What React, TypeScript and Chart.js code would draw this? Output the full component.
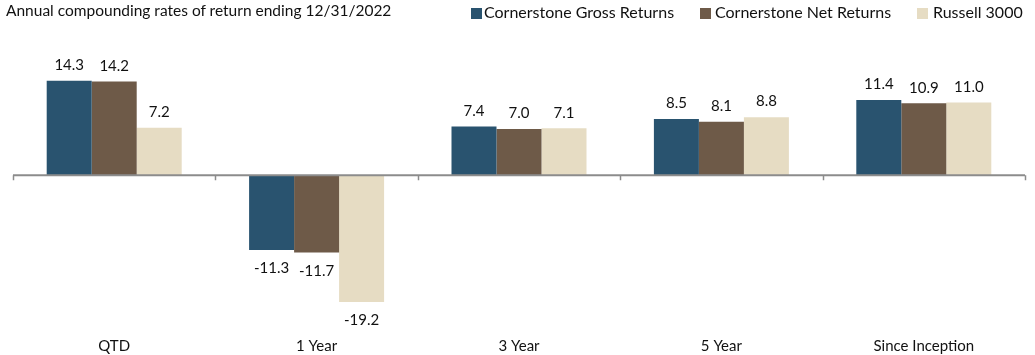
import React, { useEffect, useRef } from "react";
import { Chart, registerables } from "chart.js";

Chart.register(...registerables);

const title = "Annual compounding rates of return ending 12/31/2022";
const categories = ["QTD", "1 Year", "3 Year", "5 Year", "Since Inception"];
const seriesNames = ["Cornerstone Gross Returns", "Cornerstone Net Returns", "Russell 3000"];
const grossReturns = [14.3, -11.3, 7.4, 8.5, 11.4];
const netReturns = [14.2, -11.7, 7.0, 8.1, 10.9];
const russell3000 = [7.2, -19.2, 7.1, 8.8, 11.0];
const colors = ["#29536f", "#6e5a48", "#e6dcc3"];

const FONT = "Lato, 'Open Sans', sans-serif";

const overlayPlugin = {
  id: "overlay",
  afterDatasetsDraw(chart: any) {
    const ctx = chart.ctx;
    const y = chart.scales.y;
    const y0 = y.getPixelForValue(0);
    const { left, right } = chart.chartArea;
    ctx.save();
    ctx.strokeStyle = "#8c8c8c";
    ctx.lineWidth = 2;
    ctx.beginPath();
    ctx.moveTo(left, y0);
    ctx.lineTo(right, y0);
    ctx.stroke();
    ctx.lineWidth = 1.5;
    const n = categories.length;
    const w = (right - left) / n;
    for (let i = 0; i <= n; i++) {
      const px = Math.round(left + i * w) + 0.5;
      ctx.beginPath();
      ctx.moveTo(px, y0);
      ctx.lineTo(px, y0 + 5);
      ctx.stroke();
    }
    ctx.fillStyle = "#111";
    ctx.font = `15px ${FONT}`;
    ctx.textAlign = "center";
    chart.data.datasets.forEach((ds: any, di: number) => {
      const meta = chart.getDatasetMeta(di);
      meta.data.forEach((bar: any, i: number) => {
        const v = ds.data[i];
        const label = v.toFixed(1);
        if (v >= 0) {
          ctx.textBaseline = "bottom";
          ctx.fillText(label, bar.x, bar.y - 8);
        } else {
          ctx.textBaseline = "top";
          ctx.fillText(label, bar.x, bar.y + 11);
        }
      });
    });
    ctx.restore();
  },
};

const legendSquareLeft = [471, 700, 917];
const legendTextLeft = [484, 715, 933];

export default function App() {
  const ref = useRef<HTMLCanvasElement | null>(null);
  useEffect(() => {
    if (!ref.current) return;
    const data = [grossReturns, netReturns, russell3000];
    const chart = new Chart(ref.current, {
      type: "bar",
      data: {
        labels: categories,
        datasets: seriesNames.map((name, i) => ({
          label: name,
          data: data[i],
          backgroundColor: colors[i],
          borderWidth: 0,
          barPercentage: 1,
          categoryPercentage: 0.667,
        })),
      },
      options: {
        animation: false,
        responsive: false,
        maintainAspectRatio: false,
        layout: { padding: { left: 13, right: 10, top: 30, bottom: -3 } },
        plugins: {
          legend: { display: false },
          tooltip: { enabled: false },
          title: { display: false },
        },
        scales: {
          x: {
            grid: { display: false },
            border: { display: false },
            ticks: { color: "#111", font: { family: FONT, size: 15 }, padding: 3, maxRotation: 0 },
          },
          y: {
            display: false,
            min: -22.82,
            max: 21.99,
          },
        },
      },
      plugins: [overlayPlugin],
    });
    return () => chart.destroy();
  }, []);

  return (
    <div style={{ position: "fixed", left: 0, top: 0, width: 1035, height: 355, background: "#fff", fontFamily: FONT }}>
      <canvas ref={ref} width={1035} height={355} style={{ position: "absolute", left: 0, top: 0 }} />
      <div style={{ position: "absolute", left: 6, top: 2, fontSize: 15.5, lineHeight: "16px", color: "#111", whiteSpace: "nowrap" }}>{title}</div>
      {seriesNames.map((name, i) => (
        <React.Fragment key={name}>
          <span style={{ position: "absolute", left: legendSquareLeft[i], top: 8, width: 11, height: 11, background: colors[i] }} />
          <div style={{ position: "absolute", left: legendTextLeft[i], top: 4, fontSize: 16, lineHeight: "16px", color: "#111", whiteSpace: "nowrap" }}>{name}</div>
        </React.Fragment>
      ))}
    </div>
  );
}
